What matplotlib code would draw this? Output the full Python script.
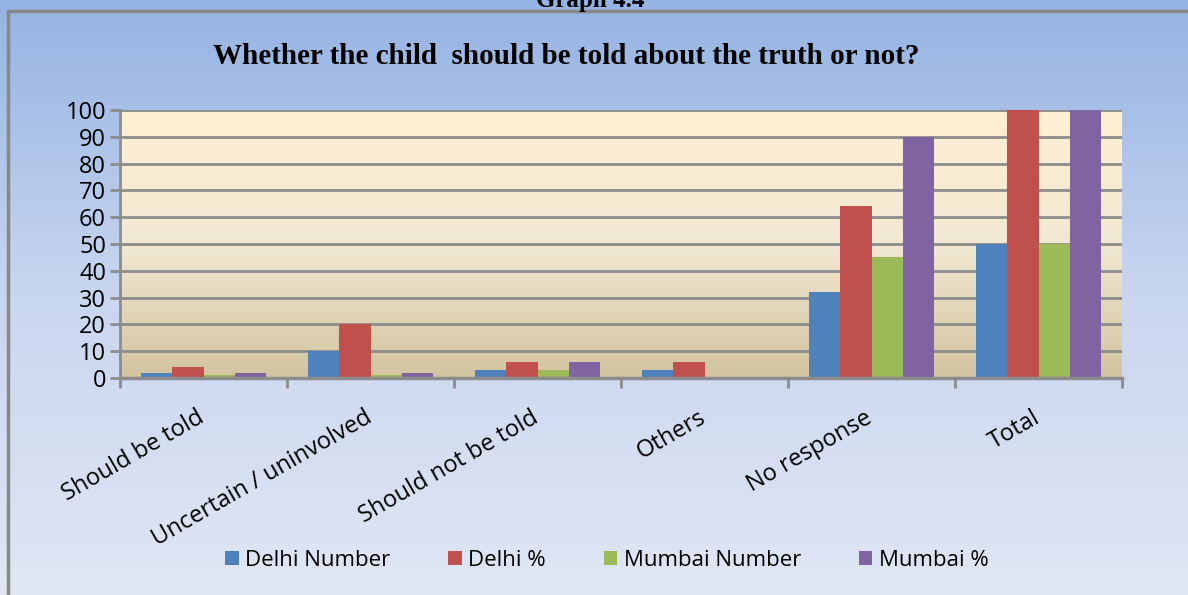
import numpy as np
import matplotlib.pyplot as plt
from matplotlib.colors import LinearSegmentedColormap

categories = ['Should be told', 'Uncertain / uninvolved', 'Should not be told',
              'Others', 'No response', 'Total']
delhi_num = [2, 10, 3, 3, 32, 50]
delhi_pct = [4, 20, 6, 6, 64, 100]
mumbai_num = [1, 1, 3, 0, 45, 50]
mumbai_pct = [2, 2, 6, 0, 90, 100]
series_names = ['Delhi Number', 'Delhi %', 'Mumbai Number', 'Mumbai %']
colors = ['#4F81BD', '#C0504D', '#9BBB59', '#8064A2']

fig = plt.figure(figsize=(11.88, 5.95), dpi=100)

# figure background gradient
bg = fig.add_axes([0, 0, 1, 1], zorder=-10)
bg_cmap = LinearSegmentedColormap.from_list('bg', ['#95B3E3', '#C9D6EF', '#E0E7F4'])
bg.imshow(np.linspace(0, 1, 256).reshape(-1, 1), aspect='auto', cmap=bg_cmap,
          extent=[0, 1, 0, 1])
bg.set_xlim(0, 1)
bg.set_ylim(0, 1)
bg.plot([8/1188, 8/1188, 1.2], [0, 1 - 11/595, 1 - 11/595], color='#888888', lw=2.5)
bg.axis('off')

ax = fig.add_axes([120/1188, 1 - 378/595, (1122-120)/1188, (378-110)/595])
pa_cmap = LinearSegmentedColormap.from_list('pa', ['#FFF0D2', '#F1E8D2', '#D3C4A0'])
ax.imshow(np.linspace(0, 1, 256).reshape(-1, 1), aspect='auto', cmap=pa_cmap,
          extent=[-0.5, len(categories) - 0.5, 0, 100], zorder=0)

x = np.arange(len(categories))
w = 0.186
data = [delhi_num, delhi_pct, mumbai_num, mumbai_pct]
for i, (vals, name, c) in enumerate(zip(data, series_names, colors)):
    ax.bar(x + (i - 1.5) * w, vals, w, color=c, label=name, zorder=3)

ax.set_xlim(-0.5, len(categories) - 0.5)
ax.set_ylim(0, 100)
ax.set_yticks(range(0, 101, 10))
ax.yaxis.grid(True, color='#8C8C8C', lw=2, zorder=1)
ax.set_axisbelow(False)
for s in ['top', 'right']:
    ax.spines[s].set_visible(False)
ax.spines['left'].set_color('#8C8C8C')
ax.spines['left'].set_linewidth(2)
ax.spines['bottom'].set_color('#8C8C8C')
ax.spines['bottom'].set_linewidth(2.5)
ax.spines['bottom'].set_zorder(4)

ax.set_xticks(x - 0.04)
ax.set_xticklabels(categories, rotation=30, ha='right', rotation_mode='anchor',
                   fontsize=17, family='Open Sans')
ax.tick_params(axis='x', which='major', length=0, pad=20)
ax.set_xticks(np.arange(-0.5, len(categories)), minor=True)
ax.tick_params(axis='x', which='minor', length=7, width=2, color='#8C8C8C')
ax.tick_params(axis='y', length=7, width=2, color='#8C8C8C', labelsize=17, pad=3)
for lab in ax.get_yticklabels():
    lab.set_family('Open Sans')

fig.text(566/1188, 1 - 57/595, 'Whether the child  should be told about the truth or not?',
         ha='center', va='center', fontsize=21, fontweight='bold', family='Liberation Serif')
fig.text(590/1188, 1.0, 'Graph 4.4', ha='center', va='center', fontsize=18,
         fontweight='bold', family='Liberation Serif')

fig.legend(loc='center', bbox_to_anchor=(607/1188, 1 - 560/595), ncol=4, frameon=False,
           prop={'family': 'Open Sans', 'size': 16}, handlelength=0.6, handleheight=0.6,
           handletextpad=0.3, columnspacing=2.6)

fig.savefig('out.png', dpi=100)
